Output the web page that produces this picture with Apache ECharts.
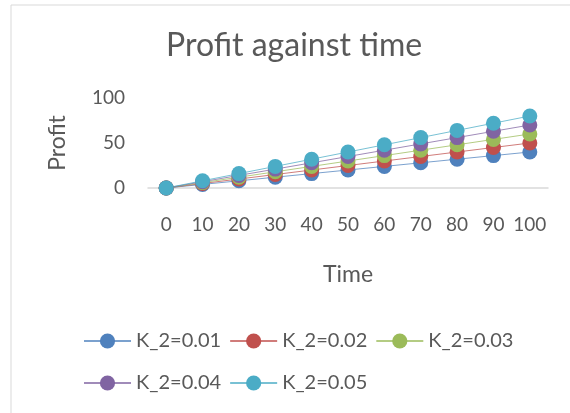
<!DOCTYPE html>
<html>
<head>
<meta charset="utf-8">
<script src="https://cdn.jsdelivr.net/npm/echarts@6/dist/echarts.min.js"></script>
<style>
  html, body { margin: 0; padding: 0; background: #fff; }
  #chart { width: 570px; height: 413px; }
</style>
</head>
<body>
<div id="chart"></div>
<script>
// time points on the x axis
const times = ['0', '10', '20', '30', '40', '50', '60', '70', '80', '90', '100'];
const seriesNames = ['K_2=0.01', 'K_2=0.02', 'K_2=0.03', 'K_2=0.04', 'K_2=0.05'];
// profit
const k01 = [0, 4, 8, 12, 16, 20, 24, 28, 32, 36, 40];
const k02 = [0, 5, 10, 15, 20, 25, 30, 35, 40, 45, 50];
const k03 = [0, 6, 12, 18, 24, 30, 36, 42, 48, 54, 60];
const k04 = [0, 7, 14, 21, 28, 35, 42, 49, 56, 63, 70];
const k05 = [0, 8, 16, 24, 32, 40, 48, 56, 64, 72, 80];
const yTicks = [0, 50, 100];

const colors = ['#4F81BD', '#C0504D', '#9BBB59', '#8064A2', '#4BACC6'];
const allData = [k01, k02, k03, k04, k05];
const font = 'Lato';
const textColor = '#595959';

let myChart = echarts.init(document.getElementById('chart'));

const legendCommon = {
    left: 83,
    padding: 0,
    itemWidth: 47,
    itemHeight: 19,
    itemGap: 8,
    textStyle: { fontFamily: font, fontSize: 20, color: textColor }
};

myChart.setOption({
    color: colors,
    animation: false,
    title: {
        text: 'Profit against time',
        left: 161,
        top: 25,
        textStyle: { fontFamily: font, fontSize: 32, fontWeight: 'normal', color: textColor }
    },
    graphic: [{
        type: 'rect',
        shape: { x: 11, y: 5, width: 620, height: 450 },
        style: { fill: 'none', stroke: '#d9d9d9', lineWidth: 1 }
    }],
    legend: [
        Object.assign({ top: 331, data: seriesNames.slice(0, 3) }, legendCommon),
        Object.assign({ top: 373, data: seriesNames.slice(3) }, legendCommon)
    ],
    grid: { left: 148, right: 22, top: 98, bottom: 225 },
    xAxis: {
        type: 'category',
        data: times,
        name: 'Time',
        nameLocation: 'middle',
        nameGap: 75,
        nameTextStyle: { fontFamily: font, fontSize: 23, color: textColor },
        axisLine: { lineStyle: { color: '#d9d9d9', width: 1.5 } },
        axisTick: { show: false },
        axisLabel: { margin: 27, fontFamily: font, fontSize: 19, color: textColor, interval: 0 },
        splitLine: { show: false }
    },
    yAxis: {
        type: 'value',
        min: yTicks[0],
        max: yTicks[yTicks.length - 1],
        interval: yTicks[1] - yTicks[0],
        name: 'Profit',
        nameLocation: 'middle',
        nameGap: 79,
        nameRotate: 90,
        nameTextStyle: { fontFamily: font, fontSize: 23, color: textColor },
        axisLine: { show: false },
        axisTick: { show: false },
        axisLabel: { margin: 23, fontFamily: font, fontSize: 19, color: textColor },
        splitLine: { show: false }
    },
    series: seriesNames.map((name, i) => ({
        name: name,
        type: 'line',
        data: allData[i],
        symbol: 'circle',
        symbolSize: 15,
        showSymbol: true,
        itemStyle: { color: colors[i] },
        lineStyle: { color: colors[i], width: 1, opacity: 0.75 }
    }))
});
</script>
</body>
</html>
